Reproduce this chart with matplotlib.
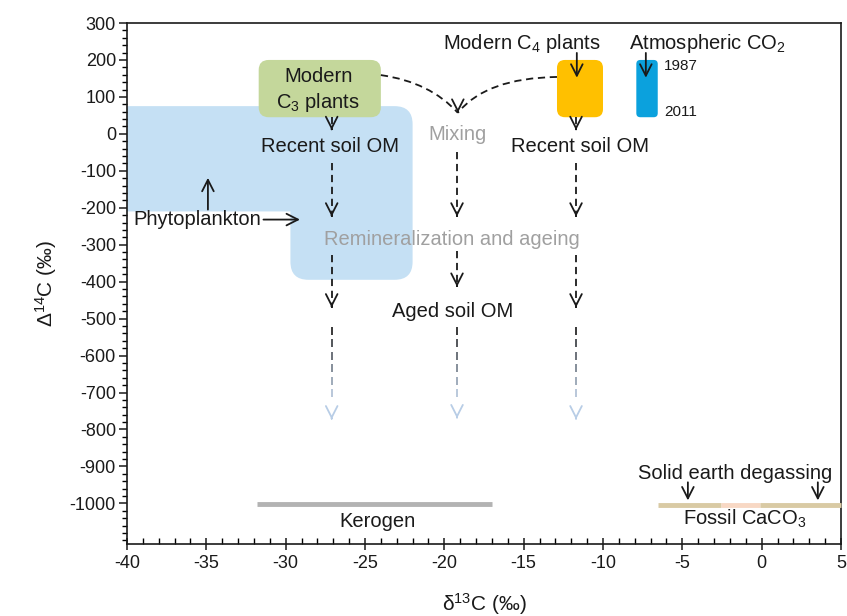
import numpy as np
import matplotlib.pyplot as plt
from matplotlib.patches import FancyBboxPatch, PathPatch
from matplotlib.path import Path
from matplotlib.ticker import MultipleLocator
import matplotlib.colors as mcolors

plt.rcParams['font.family'] = ['Liberation Sans', 'DejaVu Sans']
plt.rcParams['mathtext.fontset'] = 'custom'
plt.rcParams['mathtext.rm'] = 'Liberation Sans'
plt.rcParams['mathtext.it'] = 'Liberation Sans:italic'
plt.rcParams['axes.unicode_minus'] = False

# axis ranges and ticks
x_lim = (-40, 5)
y_lim = (-1110, 300)
x_ticks = np.arange(-40, 6, 5)
y_ticks = np.arange(-1000, 301, 100)

# source boxes (x0, x1, y0, y1)
c3_box = (-31.7, -24.0, 45, 200)
c4_box = (-12.9, -10.0, 45, 200)
co2_bar = (-7.9, -6.55, 45, 200)
phyto_upper = (-41.0, -23.5, -210, 75)
phyto_lower = (-29.7, -22.0, -395, 75)

# pathway columns: x position, dashed segments (start, end), fading segment
col_x = [-27.1, -19.2, -11.7]
col_segments = [
    [(45, 10), (-78, -224), (-327, -470)],
    [(-49, -224), (-318, -414)],
    [(45, 10), (-78, -224), (-327, -470)],
]
fade_segments = [(-522, -773), (-522, -770), (-522, -773)]

# mixing curves (start, control, end)
mix_point = (-19.15, 57)
mix_left = [(-24.0, 159), (-20.9, 140)]
mix_right = [(-12.9, 154), (-17.4, 151)]

# baseline bars
kerogen = (-31.8, -17.0, -1003)
caco3_parts = [(-6.55, -2.55, '#d9caa4'), (-2.55, -0.1, '#f8d8c4'), (-0.1, 5.0, '#d9caa4')]
caco3_y = -1004

BLACK = '#1a1a1a'
GRAY_TXT = '#a0a0a0'

fig = plt.figure(figsize=(8.47, 6.16), dpi=100)
ax = fig.add_axes([127 / 847, 1 - 544 / 616, 714 / 847, 521 / 616])
ax.set_xlim(*x_lim)
ax.set_ylim(*y_lim)

# aspect so rounded corners look round
bbox = ax.get_position()
px_x = bbox.width * 847 / (x_lim[1] - x_lim[0])
px_y = bbox.height * 616 / (y_lim[1] - y_lim[0])
aspect = px_x / px_y


def rbox(b, color, r_px, z=1):
    x0, x1, y0, y1 = b
    p = FancyBboxPatch((x0, y0), x1 - x0, y1 - y0,
                       boxstyle='round,pad=0,rounding_size=%f' % (r_px / px_x),
                       mutation_aspect=aspect, fc=color, ec='none', zorder=z,
                       clip_on=True)
    ax.add_patch(p)


def head(x, y, color=BLACK, lw=1.3):
    ax.annotate('', xy=(x, y), xytext=(x, y + 3),
                arrowprops=dict(arrowstyle='->,head_length=0.75,head_width=0.38',
                                color=color, lw=lw, shrinkA=0, shrinkB=0,
                                mutation_scale=11), zorder=5)


def arrow(x0, y0, x1, y1):
    ax.annotate('', xy=(x1, y1), xytext=(x0, y0),
                arrowprops=dict(arrowstyle='->,head_length=0.75,head_width=0.38',
                                color=BLACK, lw=1.3, shrinkA=0, shrinkB=0,
                                mutation_scale=11), zorder=5)


dash = (0, (4, 2.6))

# phytoplankton field
rbox(phyto_upper, '#c5e0f4', 18, z=0.5)
rbox(phyto_lower, '#c5e0f4', 18, z=0.5)

# sources
rbox(c3_box, '#c4d79b', 10, z=2)
rbox(c4_box, '#ffc000', 8, z=2)
rbox(co2_bar, '#0ba1dd', 4, z=2)

# dashed pathways
for x, segs in zip(col_x, col_segments):
    for y0, y1 in segs:
        ax.plot([x, x], [y0, y1], color=BLACK, lw=1.3, ls=dash, zorder=4)
        head(x, y1)

# fading dashes
c_top = np.array(mcolors.to_rgb('#2a2a2a'))
c_bot = np.array(mcolors.to_rgb('#c6d9ef'))
dash_len = 8 / px_y
period = 12.5 / px_y
for x, (y0, y1) in zip(col_x, fade_segments):
    starts = np.arange(y0, y1 + 20 / px_y, -period)
    for s in starts:
        f = (y0 - s) / (y0 - y1)
        c = c_top + (c_bot - c_top) * min(f * 1.3, 1)
        ax.plot([x, x], [s, max(s - dash_len, y1)], color=c, lw=1.3,
                solid_capstyle='butt', zorder=4)
    head(x, y1, color='#b8cde6')

# mixing curves
for (p0, pc) in [mix_left, mix_right]:
    path = Path([p0, pc, mix_point], [Path.MOVETO, Path.CURVE3, Path.CURVE3])
    ax.add_patch(PathPatch(path, fc='none', ec=BLACK, lw=1.3, ls=dash, zorder=4))
head(mix_point[0], mix_point[1])

# texts
fs = 14.5
ax.text(-27.95, 117, 'Modern\nC$_3$ plants', ha='center', va='center', fontsize=fs,
        color=BLACK, linespacing=1.25, zorder=6)
ax.text(-27.2, -35, 'Recent soil OM', ha='center', va='center', fontsize=fs, color=BLACK, zorder=6)
ax.text(-11.45, -35, 'Recent soil OM', ha='center', va='center', fontsize=fs, color=BLACK, zorder=6)
ax.text(-19.2, -3, 'Mixing', ha='center', va='center', fontsize=fs, color=GRAY_TXT, zorder=6)
ax.text(-19.5, -287, 'Remineralization and ageing', ha='center', va='center', fontsize=fs,
        color=GRAY_TXT, zorder=6)
ax.text(-19.5, -481, 'Aged soil OM', ha='center', va='center', fontsize=fs, color=BLACK, zorder=6)
ax.text(-39.6, -232, 'Phytoplankton', ha='left', va='center', fontsize=fs, color=BLACK, zorder=6)
arrow(-34.9, -205, -34.9, -119)
arrow(-31.4, -232, -29.1, -232)

ax.text(-15.1, 245, 'Modern C$_4$ plants', ha='center', va='center', fontsize=fs, color=BLACK)
arrow(-11.65, 219, -11.65, 152)
ax.text(-3.4, 245, 'Atmospheric CO$_2$', ha='center', va='center', fontsize=fs, color=BLACK)
arrow(-7.3, 219, -7.3, 152)
ax.text(-6.15, 184, '1987', ha='left', va='center', fontsize=11, color=BLACK)
ax.text(-6.15, 59, '2011', ha='left', va='center', fontsize=11, color=BLACK)

# baseline bars
ax.plot([kerogen[0], kerogen[1]], [kerogen[2], kerogen[2]], color='#b3b3b3', lw=3.5,
        solid_capstyle='butt', zorder=3)
ax.text(-24.2, -1049, 'Kerogen', ha='center', va='center', fontsize=fs, color=BLACK)
for x0, x1, c in caco3_parts:
    ax.plot([x0, x1], [caco3_y, caco3_y], color=c, lw=3.5, solid_capstyle='butt',
            zorder=3, clip_on=False)
ax.text(-1.1, -1042, 'Fossil CaCO$_3$', ha='center', va='center', fontsize=fs, color=BLACK)
ax.text(-1.7, -919, 'Solid earth degassing', ha='center', va='center', fontsize=fs, color=BLACK)
arrow(-4.65, -943, -4.65, -992)
arrow(3.54, -943, 3.54, -992)

# axes styling
ax.set_xticks(x_ticks)
ax.set_yticks(y_ticks)
ax.xaxis.set_minor_locator(MultipleLocator(1))
ax.yaxis.set_minor_locator(MultipleLocator(20))
ax.tick_params(axis='x', which='major', direction='inout', length=8, width=1.1,
               labelsize=13, pad=4, colors=BLACK)
ax.tick_params(axis='x', which='minor', direction='in', length=4, width=1.0)
ax.tick_params(axis='y', which='major', direction='out', length=6, width=1.1,
               labelsize=13, pad=2, colors=BLACK)
ax.tick_params(axis='y', which='minor', direction='out', length=3.5, width=1.0)
for s in ax.spines.values():
    s.set_linewidth(1.2)
    s.set_color(BLACK)

ax.set_xlabel('δ$^{13}$C (‰)', fontsize=15, labelpad=14, color=BLACK)
ax.set_ylabel('Δ$^{14}$C (‰)', fontsize=15, labelpad=8, color=BLACK)

fig.savefig('out.png', dpi=100)
